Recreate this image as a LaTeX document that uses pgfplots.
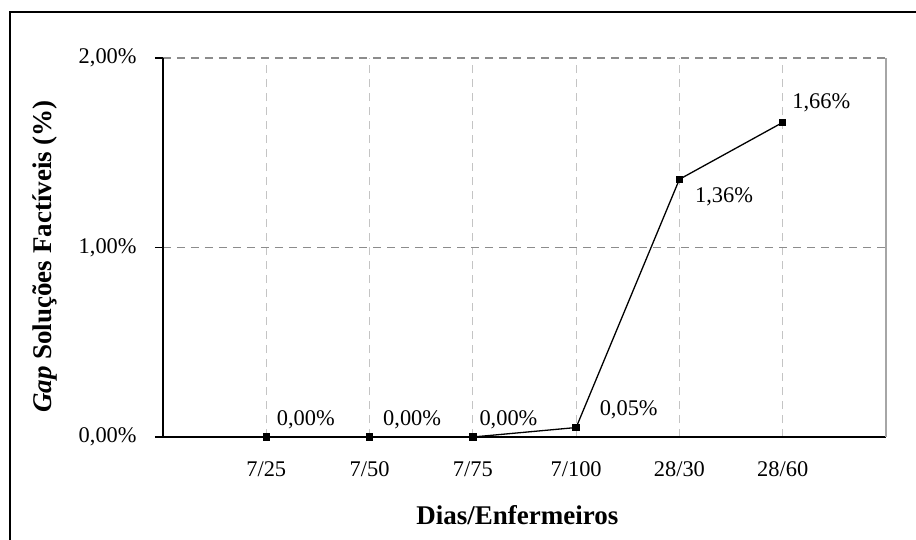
\documentclass[border=0pt]{standalone}
\usepackage{fontspec}
\setmainfont{Liberation Serif}
\usepackage{pgfplots}
\usepackage{pgfplotstable}
\pgfplotsset{compat=1.18}
\definecolor{vgrid}{HTML}{C4C4C4}
\definecolor{hgrid}{HTML}{8C8C8C}
\definecolor{rborder}{HTML}{A6A6A6}

\pgfplotstableread{
x y dx dy
1 0.00 10 17
2 0.00 13 17
3 0.00 6 17
4 0.05 23 18
5 1.36 15 -17
6 1.66 9 20
}\gapdata

\begin{document}
\begin{tikzpicture}
\useasboundingbox (0,0) rectangle (458pt,-270pt);
\draw[line width=0.7pt] (5pt,-6pt) rectangle (480pt,-290pt);
\begin{axis}[
  at={(81.5pt,-218.5pt)}, anchor=south west,
  scale only axis, width=361.5pt, height=189.5pt,
  /pgf/number format/assume math mode=true,
  xmin=0, xmax=7, ymin=0, ymax=2,
  xtick={1,2,3,4,5,6},
  xticklabels={7/25,7/50,7/75,7/100,28/30,28/60},
  ytick={0,1,2},
  yticklabels={{0,00\%},{1,00\%},{2,00\%}},
  axis lines*=left,
  axis line style={-, line width=0.65pt, black},
  tick align=outside,
  major tick length=4pt,
  xtick style={draw=none},
  ytick style={draw=black, line width=0.6pt},
  xmajorgrids, ymajorgrids,
  x grid style={vgrid, line width=0.6pt, dash pattern=on 4pt off 3pt},
  y grid style={hgrid, line width=0.6pt, dash pattern=on 4pt off 3pt},
  tick label style={font=\fontsize{11.2}{13}\selectfont},
  yticklabel style={inner sep=0pt, xshift=-9pt},
  xticklabel style={inner sep=0pt, yshift=-8pt},
  xlabel={Dias/Enfermeiros},
  ylabel={{\itshape Gap} Soluções Factíveis (\%)},
  label style={font=\fontsize{13.5}{16}\selectfont\bfseries},
  xlabel style={at={(rel axis cs:0.490,-0.2058)}, anchor=center},
  ylabel style={at={(rel axis cs:-0.1632,0.476)}, anchor=center},
  clip=false,
]
\addplot[black, line width=0.65pt, mark=square*, mark size=1.5pt,
  mark options={solid},
  point meta=explicit,
  visualization depends on={\thisrow{dx} \as \dx},
  visualization depends on={\thisrow{dy} \as \dy},
  nodes near coords={\pgfmathprintnumber[fixed,fixed zerofill,precision=2,use comma,assume math mode=true]{\pgfplotspointmeta}\%},
  nodes near coords style={anchor=west, inner sep=0pt, font=\fontsize{11.2}{13}\selectfont, xshift=\dx*0.5pt, yshift=\dy*0.5pt},
] table[x=x, y=y, meta=y] {\gapdata};
\draw[rborder, line width=0.7pt] (rel axis cs:1,0) -- (rel axis cs:1,1);
\end{axis}
\end{tikzpicture}
\end{document}
